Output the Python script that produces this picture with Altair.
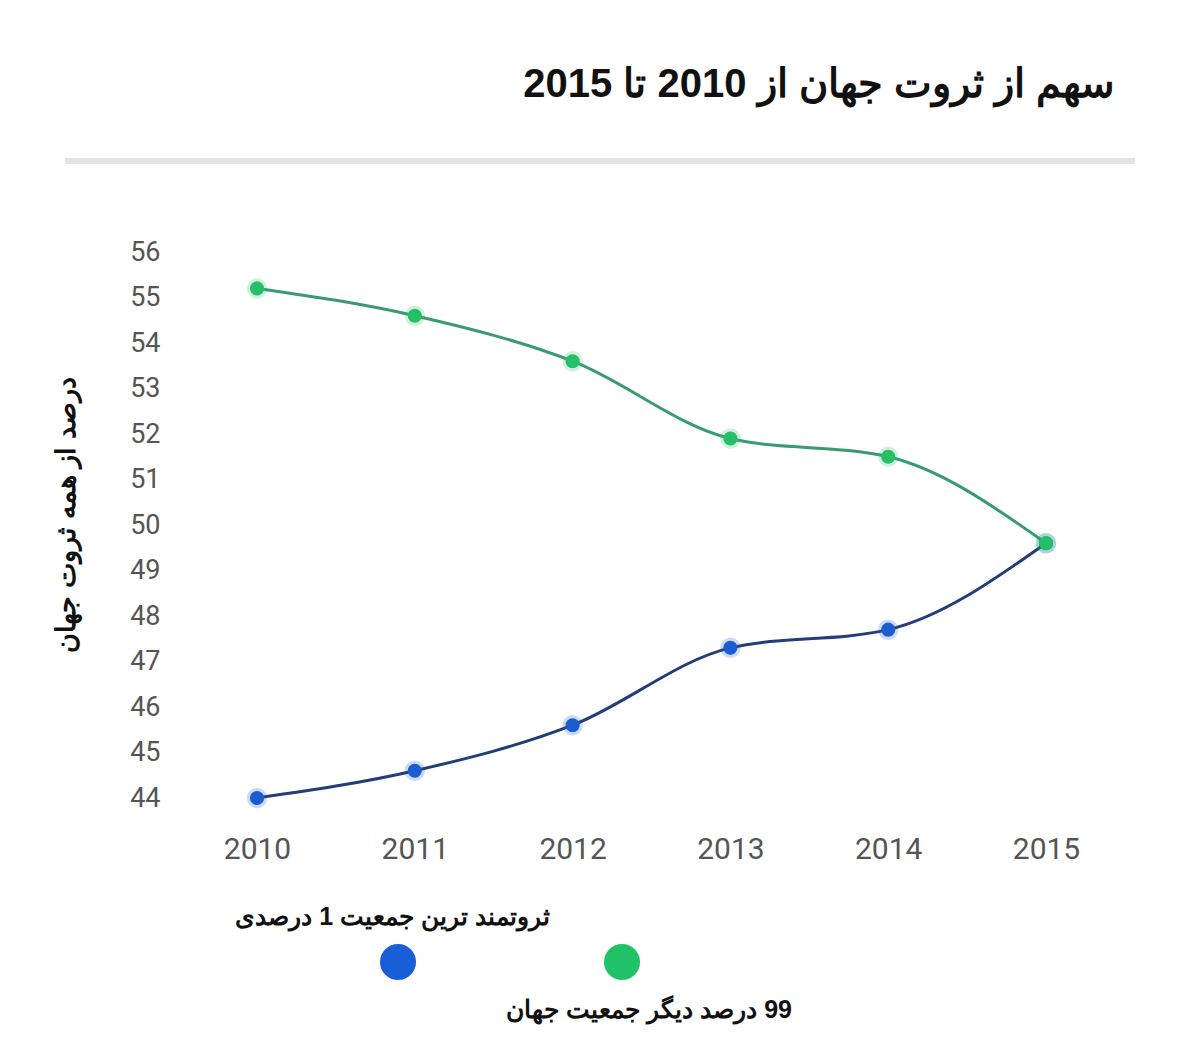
import altair as alt
import pandas as pd

years = [2010, 2011, 2012, 2013, 2014, 2015]
top1_share = [44.0, 44.6, 45.6, 47.3, 47.7, 49.6]
rest99_share = [55.2, 54.6, 53.6, 51.9, 51.5, 49.6]
series_keys = ["top1", "rest99"]
series_labels = ["ثروتمند ترین جمعیت 1 درصدی", "99 درصد دیگر جمعیت جهان"]
y_ticks = [44, 45, 46, 47, 48, 49, 50, 51, 52, 53, 54, 55, 56]
title_text = "سهم از ثروت جهان از 2010 تا 2015"
y_title_text = "درصد از همه ثروت جهان"

point_colors = ["#1b5ccf", "#27be68"]
line_colors = ["#233d78", "#3a9a70"]
legend_colors = ["#1a5ed8", "#1fc266"]

rows = []
for yr, a, b in zip(years, top1_share, rest99_share):
    rows.append({"year": yr, "series": "top1", "value": a})
    rows.append({"year": yr, "series": "rest99", "value": b})
df = pd.DataFrame(rows)

x_enc = alt.X(
    "year:Q",
    scale=alt.Scale(domain=[2010, 2015], nice=False, zero=False),
    axis=alt.Axis(values=years, format="d", labelFontSize=30, labelColor="#555555",
                  labelFont="Roboto", labelPadding=36, domain=False, ticks=False,
                  tickSize=0, grid=False, title=None, labelFlush=False,
                  labelOverlap=False),
)
y_enc = alt.Y(
    "value:Q",
    scale=alt.Scale(domain=[44, 56], nice=False, zero=False),
    axis=alt.Axis(values=y_ticks, labelFontSize=27, labelColor="#555555",
                  labelFont="Roboto", labelPadding=97, domain=False, ticks=False,
                  tickSize=0, grid=False, title=None, labelOverlap=False),
)

base = alt.Chart(df)

lines = base.mark_line(interpolate="monotone", strokeWidth=3).encode(
    x=x_enc, y=y_enc,
    stroke=alt.Stroke("series:N", scale=alt.Scale(domain=series_keys, range=line_colors), legend=None),
    detail="series:N",
)
halo = base.mark_circle(size=420, opacity=0.22).encode(
    x=x_enc, y=y_enc,
    fill=alt.Fill("series:N", scale=alt.Scale(domain=series_keys, range=point_colors), legend=None),
)
points = base.mark_circle(size=200, opacity=1).encode(
    x=x_enc, y=y_enc,
    fill=alt.Fill("series:N", scale=alt.Scale(domain=series_keys, range=point_colors), legend=None),
)

title = alt.Chart(pd.DataFrame({"t": [title_text]})).mark_text(
    font="Liberation Sans", fontSize=40, fontWeight="bold", color="#111111",
    align="right", baseline="alphabetic",
).encode(text="t:N", x=alt.value(858), y=alt.value(-155))

sep = alt.Chart(pd.DataFrame({"t": [0]})).mark_rule(color="#e4e4e4", strokeWidth=6).encode(
    x=alt.value(-192), x2=alt.value(878), y=alt.value(-91)
)

ytitle = alt.Chart(pd.DataFrame({"t": [y_title_text]})).mark_text(
    font="Liberation Sans", fontSize=27, fontWeight="bold", color="#111111",
    align="center", baseline="middle", angle=270,
).encode(text="t:N", x=alt.value(-190), y=alt.value(263))

leg_dot1 = alt.Chart(pd.DataFrame({"t": [series_keys[0]]})).mark_circle(
    size=1300, color=legend_colors[0], opacity=1
).encode(x=alt.value(141), y=alt.value(710))
leg_dot2 = alt.Chart(pd.DataFrame({"t": [series_keys[1]]})).mark_circle(
    size=1300, color=legend_colors[1], opacity=1
).encode(x=alt.value(365), y=alt.value(710))

leg_txt1 = alt.Chart(pd.DataFrame({"t": ["\u200f" + series_labels[0]]})).mark_text(
    font="Liberation Sans", fontSize=25, fontWeight="bold", color="#111111",
    align="right", baseline="middle",
).encode(text="t:N", x=alt.value(293), y=alt.value(665))
leg_txt2 = alt.Chart(pd.DataFrame({"t": ["\u200f" + series_labels[1]]})).mark_text(
    font="Liberation Sans", fontSize=25, fontWeight="bold", color="#111111",
    align="right", baseline="middle",
).encode(text="t:N", x=alt.value(535), y=alt.value(758))

chart = alt.layer(
    lines, halo, points, title, sep, ytitle, leg_dot1, leg_dot2, leg_txt1, leg_txt2
).properties(
    width=789, height=546,
    padding={"left": 249, "top": 244, "right": 146, "bottom": 240},
    autosize=alt.AutoSizeParams(type="none"),
    background="white",
).configure_view(strokeWidth=0, stroke=None)

chart.save("out.html", embed_options={"renderer": "svg", "actions": False})
